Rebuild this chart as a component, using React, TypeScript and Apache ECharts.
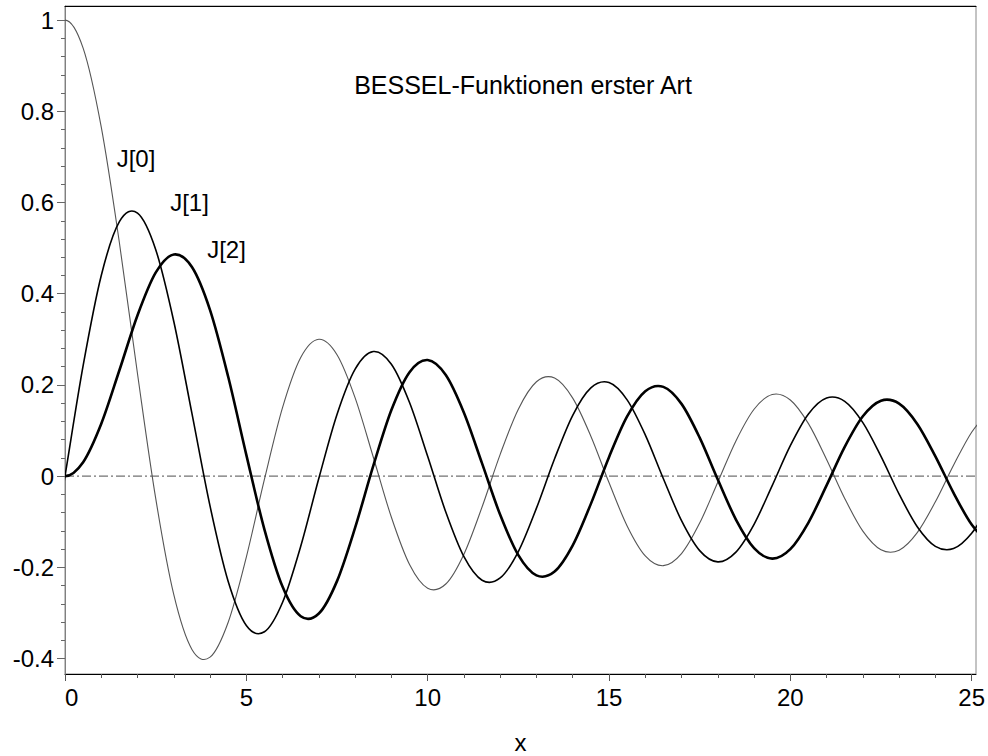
import React, { useEffect, useRef } from "react";
import * as echarts from "echarts";

// sample positions (x = -0.5 lies outside the visible range and only shapes the curve at x = 0)
const xs = [-0.5, 0, 0.5, 1, 1.5, 2, 2.5, 3, 3.5, 4, 4.5, 5, 5.5, 6, 6.5, 7, 7.5, 8, 8.5, 9, 9.5, 10, 10.5, 11, 11.5, 12, 12.5, 13, 13.5, 14, 14.5, 15, 15.5, 16, 16.5, 17, 17.5, 18, 18.5, 19, 19.5, 20, 20.5, 21, 21.5, 22, 22.5, 23, 23.5, 24, 24.5, 25, 25.5];

const j0 = [0.9385, 1.0, 0.9385, 0.7652, 0.5118, 0.2239, -0.0484, -0.2601, -0.3801, -0.3971, -0.3205, -0.1776, -0.0068, 0.1506, 0.2601, 0.3001, 0.2663, 0.1717, 0.0419, -0.0903, -0.1939, -0.2459, -0.2366, -0.1712, -0.0677, 0.0477, 0.1469, 0.2069, 0.2150, 0.1711, 0.0876, -0.0142, -0.1092, -0.1749, -0.1964, -0.1699, -0.1031, -0.0134, 0.0772, 0.1466, 0.1789, 0.1670, 0.1151, 0.0366, -0.0489, -0.1207, -0.1615, -0.1624, -0.1239, -0.0562, 0.0237, 0.0963, 0.1441];

const j1 = [-0.2423, 0, 0.2423, 0.4401, 0.5579, 0.5767, 0.4971, 0.3391, 0.1374, -0.0660, -0.2311, -0.3276, -0.3414, -0.2767, -0.1538, -0.0047, 0.1352, 0.2346, 0.2731, 0.2453, 0.1613, 0.0435, -0.0789, -0.1768, -0.2284, -0.2234, -0.1655, -0.0703, 0.0381, 0.1334, 0.1934, 0.2051, 0.1672, 0.0904, -0.0058, -0.0977, -0.1634, -0.1880, -0.1666, -0.1057, -0.0209, 0.0668, 0.1363, 0.1712, 0.1639, 0.1172, 0.0432, -0.0395, -0.1109, -0.1540, -0.1590, -0.1254, -0.0620];

const j2 = [0.0306, 0, 0.0306, 0.1149, 0.2321, 0.3528, 0.4461, 0.4861, 0.4586, 0.3641, 0.2178, 0.0466, -0.1173, -0.2429, -0.3074, -0.3014, -0.2303, -0.1130, 0.0223, 0.1448, 0.2279, 0.2546, 0.2216, 0.1390, 0.0279, -0.0849, -0.1734, -0.2177, -0.2094, -0.1520, -0.0609, 0.0416, 0.1308, 0.1862, 0.1957, 0.1584, 0.0844, -0.0075, -0.0952, -0.1578, -0.1810, -0.1603, -0.1018, -0.0203, 0.0642, 0.1313, 0.1654, 0.1590, 0.1145, 0.0434, -0.0367, -0.1063, -0.1489];

const xMajor = [0, 5, 10, 15, 20, 25];
const xMinor = [1, 2, 3, 4, 6, 7, 8, 9, 11, 12, 13, 14, 16, 17, 18, 19, 21, 22, 23, 24];
const yMajor = [-0.4, -0.2, 0, 0.2, 0.4, 0.6, 0.8, 1];
const yMinor = [-0.36, -0.32, -0.28, -0.24, -0.16, -0.12, -0.08, -0.04, 0.04, 0.08, 0.12, 0.16, 0.24, 0.28, 0.32, 0.36, 0.44, 0.48, 0.52, 0.56, 0.64, 0.68, 0.72, 0.76, 0.84, 0.88, 0.92, 0.96];
const zeroLineX = [0, 25.12];

const seriesNames = ["J[0]", "J[1]", "J[2]"];
const titleText = "BESSEL-Funktionen erster Art";
const xName = "x";

const FONT = "'Liberation Sans', Arial, Helvetica, sans-serif";

function curveSeries(name: string, ys: number[], color: string, width: number, z: number) {
  return {
    name,
    type: "custom",
    clip: true,
    z,
    silent: true,
    data: xs.map((x, i) => [x, ys[i]]),
    encode: { x: 0, y: 1 },
    renderItem: (params: any, api: any) => {
      if (params.dataIndex !== 0) return null;
      const pts = xs.map((x, i) => api.coord([x, ys[i]]));
      const n = pts.length;
      const get = (k: number) => {
        if (k < 0) return [2 * pts[0][0] - pts[1][0], 2 * pts[0][1] - pts[1][1]];
        if (k >= n) return [2 * pts[n - 1][0] - pts[n - 2][0], 2 * pts[n - 1][1] - pts[n - 2][1]];
        return pts[k];
      };
      let d = `M${pts[0][0].toFixed(2)} ${pts[0][1].toFixed(2)}`;
      for (let i = 0; i < n - 1; i++) {
        const p0 = get(i - 1);
        const p1 = get(i);
        const p2 = get(i + 1);
        const p3 = get(i + 2);
        const c1x = p1[0] + (p2[0] - p0[0]) / 6;
        const c1y = p1[1] + (p2[1] - p0[1]) / 6;
        const c2x = p2[0] - (p3[0] - p1[0]) / 6;
        const c2y = p2[1] - (p3[1] - p1[1]) / 6;
        d += ` C${c1x.toFixed(2)} ${c1y.toFixed(2)} ${c2x.toFixed(2)} ${c2y.toFixed(2)} ${p2[0].toFixed(2)} ${p2[1].toFixed(2)}`;
      }
      return {
        type: "path",
        shape: { pathData: d },
        style: { stroke: color, lineWidth: width, fill: null, lineJoin: "round" },
      };
    },
  };
}

export default function App() {
  const ref = useRef<HTMLDivElement>(null);
  useEffect(() => {
    if (!ref.current) return;
    const chart = echarts.init(ref.current, undefined, { renderer: "svg" });
    const X_MIN = 0;
    const X_MAX = 25.12;
    const Y_MIN = -0.434;
    const Y_MAX = 1.031;
    const option: any = {
      animation: false,
      backgroundColor: "#fff",
      grid: {
        left: 65,
        right: 11,
        top: 6,
        bottom: 82,
        show: true,
        borderColor: "#888",
        borderWidth: 1,
        backgroundColor: "transparent",
      },
      xAxis: [
        {
          type: "value",
          min: X_MIN,
          max: X_MAX,
          position: "bottom",
          axisLine: { show: true, onZero: false, lineStyle: { color: "#000", width: 1 } },
          axisTick: { show: true, customValues: xMajor, length: 7, lineStyle: { color: "#555" } },
          axisLabel: {
            customValues: xMajor,
            fontSize: 24,
            fontFamily: FONT,
            color: "#000",
            margin: 11,
            alignMinLabel: "left",
          },
          splitLine: { show: false },
        },
        {
          type: "value",
          min: X_MIN,
          max: X_MAX,
          position: "bottom",
          axisLine: { show: false, onZero: false },
          axisTick: { show: true, customValues: xMinor, length: 4, lineStyle: { color: "#555" } },
          axisLabel: { show: false },
          splitLine: { show: false },
        },
        {
          type: "value",
          min: X_MIN,
          max: X_MAX,
          position: "top",
          axisLine: { show: true, onZero: false, lineStyle: { color: "#000", width: 1 } },
          axisTick: { show: false },
          axisLabel: { show: false },
          splitLine: { show: false },
        },
      ],
      yAxis: [
        {
          type: "value",
          min: Y_MIN,
          max: Y_MAX,
          position: "left",
          axisLine: { show: true, onZero: false, lineStyle: { color: "#808080", width: 1 } },
          axisTick: { show: true, customValues: yMajor, length: 8, lineStyle: { color: "#666" } },
          axisLabel: {
            customValues: yMajor,
            fontSize: 24,
            fontFamily: FONT,
            color: "#000",
            margin: 11,
          },
          splitLine: { show: false },
        },
        {
          type: "value",
          min: Y_MIN,
          max: Y_MAX,
          position: "left",
          axisLine: { show: false, onZero: false },
          axisTick: { show: true, customValues: yMinor, length: 4, lineStyle: { color: "#666" } },
          axisLabel: { show: false },
          splitLine: { show: false },
        },
      ],
      series: [
        {
          name: "zero",
          type: "line",
          data: zeroLineX.map((x) => [x, 0]),
          showSymbol: false,
          symbol: "none",
          silent: true,
          lineStyle: { color: "#4d4d4d", width: 1, type: [9, 3, 2, 3] },
          z: 2,
        },
        curveSeries(seriesNames[0], j0, "#555", 1.1, 3),
        curveSeries(seriesNames[1], j1, "#000", 1.6, 4),
        curveSeries(seriesNames[2], j2, "#000", 2.6, 5),
      ],
      graphic: [
        {
          type: "text",
          x: 523,
          y: 85,
          style: { text: titleText, fontSize: 25, fontFamily: FONT, fill: "#000", align: "center", verticalAlign: "middle" },
        },
        {
          type: "text",
          x: 136,
          y: 158,
          style: { text: seriesNames[0], fontSize: 24, fontFamily: FONT, fill: "#000", align: "center", verticalAlign: "middle" },
        },
        {
          type: "text",
          x: 189.5,
          y: 202,
          style: { text: seriesNames[1], fontSize: 24, fontFamily: FONT, fill: "#000", align: "center", verticalAlign: "middle" },
        },
        {
          type: "text",
          x: 226.5,
          y: 249,
          style: { text: seriesNames[2], fontSize: 24, fontFamily: FONT, fill: "#000", align: "center", verticalAlign: "middle" },
        },
        {
          type: "text",
          x: 520.5,
          y: 742,
          style: { text: xName, fontSize: 24, fontFamily: FONT, fill: "#000", align: "center", verticalAlign: "middle" },
        },
      ],
    };
    chart.setOption(option);
    return () => chart.dispose();
  }, []);
  return (
    <div
      ref={ref}
      style={{ position: "absolute", left: 0, top: 0, width: 988, height: 756, background: "#fff" }}
    />
  );
}
